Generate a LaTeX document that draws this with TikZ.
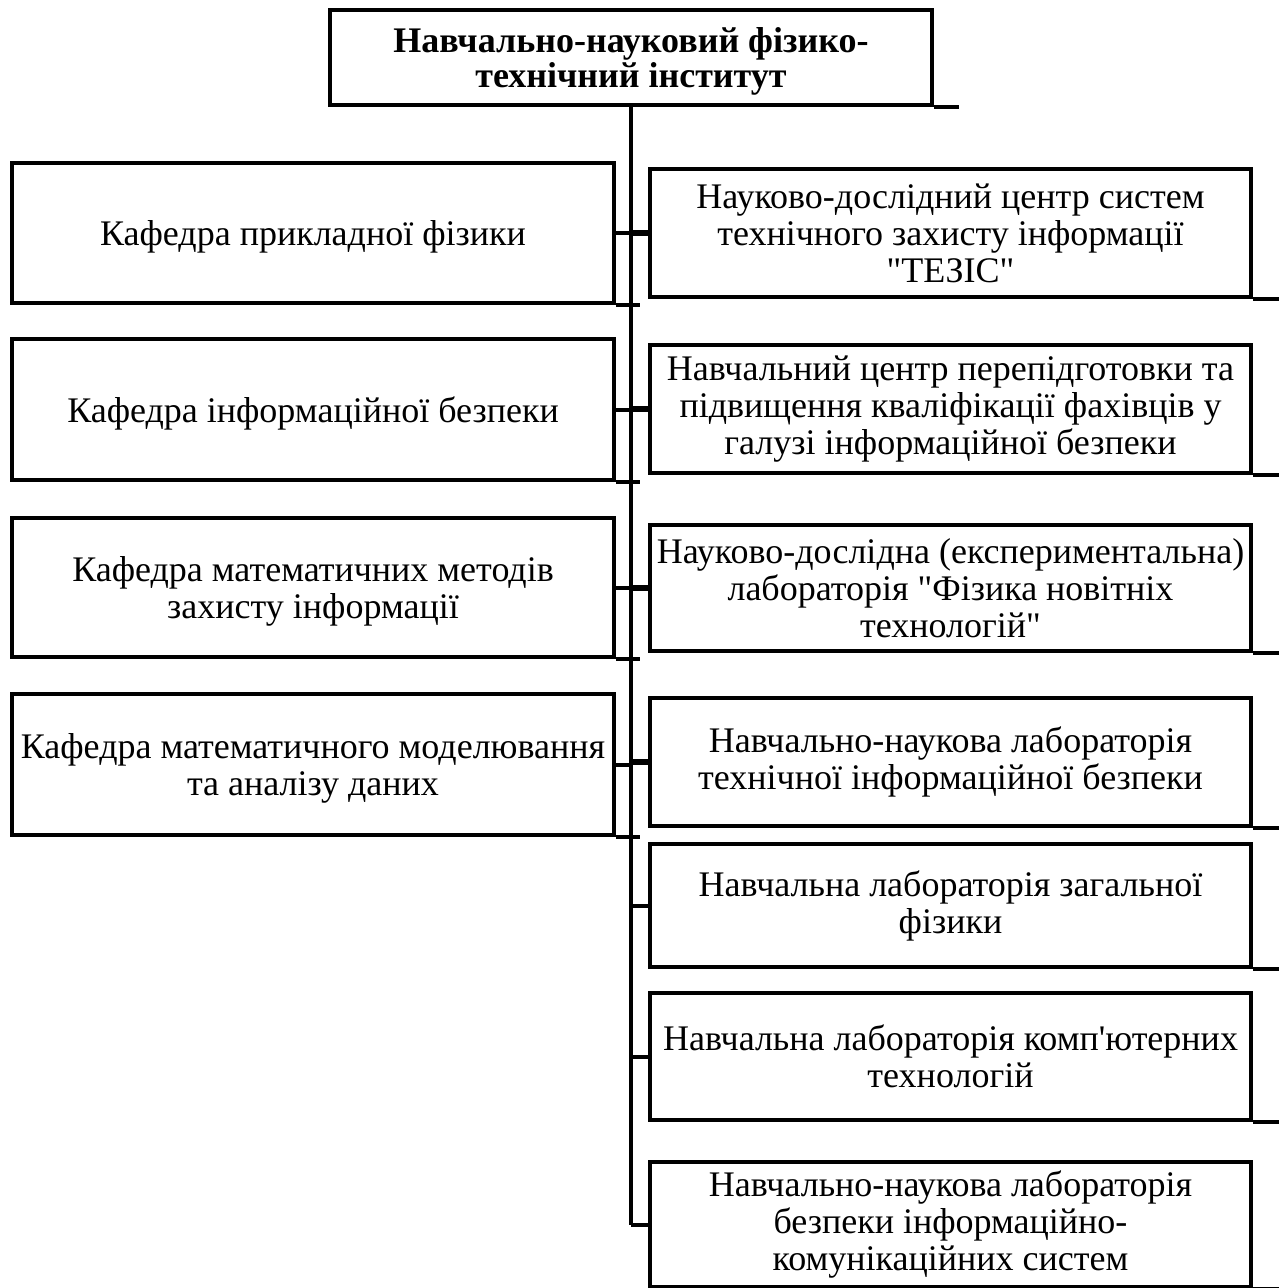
\documentclass[tikz,border=0pt]{standalone}
\usepackage{fontspec}
\newfontfamily\lfont{Liberation Serif}
\begin{document}
\begin{tikzpicture}[x=0.75pt,y=-0.75pt,
  box/.style={draw,line width=3pt,inner sep=0pt,align=center,
    font=\lfont\fontsize{27}{27.75}\selectfont},
  lbox/.style={box,minimum width=451.5pt,text depth=0pt},
  rbox/.style={box,minimum width=450.75pt},
  ln/.style={line width=3pt},
  lnb/.style={line width=4.5pt},
  ext/.style={line width=3pt}]
\useasboundingbox (0,0) rectangle (1279,1288);
\fill[white] (0,0) rectangle (1279,1288);

\node[box,minimum width=451.5pt,minimum height=71.25pt,text depth=0pt,
  font=\lfont\fontsize{27}{26.5}\selectfont\bfseries] (T) at (631,57.5)
  {Навчально-науковий фізико-\\технічний інститут};

\node[lbox,minimum height=105pt] (l1) at (313,233) {Кафедра прикладної фізики};
\node[lbox,minimum height=105.75pt] (l2) at (313,409.5) {Кафедра інформаційної безпеки};
\node[lbox,minimum height=104.25pt] (l3) at (313,587.5) {Кафедра математичних методів\\захисту інформації};
\node[lbox,minimum height=105.75pt] (l4) at (313,764.5) {Кафедра математичного моделювання\\та аналізу даних};

\node[rbox,minimum height=96pt] (r1) at (950.5,233) {Науково-дослідний центр систем\\технічного захисту інформації\\"ТЕЗІС"};
\node[rbox,minimum height=96pt] (r2) at (950.5,409) {Навчальний центр перепідготовки та\\підвищення кваліфікації фахівців у\\галузі інформаційної безпеки};
\node[rbox,minimum height=94.5pt] (r3) at (950.5,588) {Науково-дослідна (експериментальна)\\лабораторія "Фізика новітніх\\технологій"};
\node[rbox,minimum height=96pt] (r4) at (950.5,762) {Навчально-наукова лабораторія\\технічної інформаційної безпеки};
\node[rbox,minimum height=92.25pt] (r5) at (950.5,905.5) {Навчальна лабораторія загальної\\фізики};
\node[rbox,minimum height=95.25pt] (r6) at (950.5,1056.5) {Навчальна лабораторія комп'ютерних\\технологій};
\node[rbox,minimum height=93.75pt] (r7) at (950.5,1224.5) {Навчально-наукова лабораторія\\безпеки інформаційно-\\комунікаційних систем};

% spine
\draw[ln] (T.south) -- (T.south |- r7.west);
% bottom extensions
\draw[ext] (T.south east) -- ++(25,0);
\foreach \n in {l1,l2,l3,l4} \draw[ext] (\n.south east) -- ++(24,0);
\foreach \n in {r1,r2,r3,r4,r5,r6,r7} \draw[ext] (\n.south east) -- ++(26,0);
% connectors
\foreach \n in {l1,l2,l3,l4} \draw[ln] (\n.east) -- (\n.east -| T.south);
\foreach \n in {r1,r2,r3,r4} \draw[lnb] (\n.west -| T.south) -- (\n.west);
\foreach \n in {r5,r6,r7} \draw[ln] (\n.west -| T.south) -- (\n.west);
\end{tikzpicture}
\end{document}
